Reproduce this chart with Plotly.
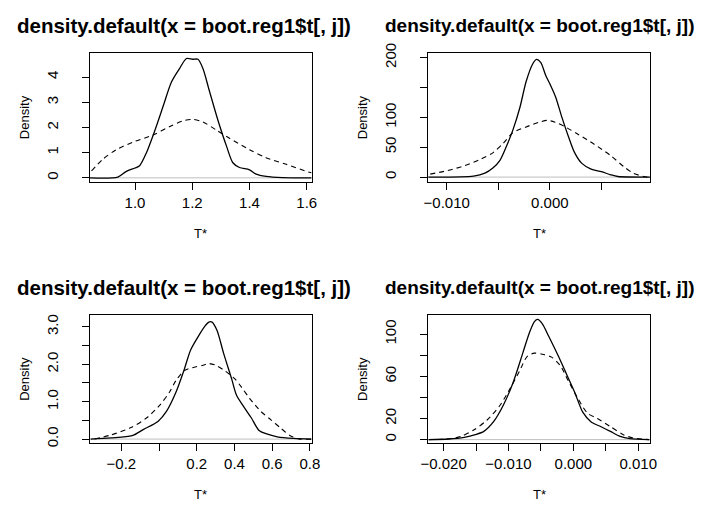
import plotly.graph_objects as go

FONT = "Liberation Sans, Arial, Helvetica, sans-serif"
TITLE = "density.default(x = boot.reg1$t[, j])"

# panel 1 (top left)
p1_solid_x = [0.84, 0.94, 0.97, 1.0, 1.016, 1.04, 1.07, 1.10, 1.127, 1.156, 1.18, 1.202,
              1.22, 1.237, 1.26, 1.29, 1.32, 1.342, 1.365, 1.40, 1.423, 1.458, 1.516, 1.617]
p1_solid_y = [0.0, 0.03, 0.26, 0.39, 0.48, 1.0, 1.9, 2.9, 3.8, 4.35, 4.74, 4.71,
              4.71, 4.35, 3.45, 2.28, 1.25, 0.6, 0.41, 0.32, 0.15, 0.06, 0.013, 0.0]
p1_dash_x = [0.848, 0.888, 0.935, 1.0, 1.063, 1.12, 1.167, 1.202, 1.237, 1.284, 1.33,
             1.40, 1.458, 1.528, 1.609, 1.617]
p1_dash_y = [0.28, 0.74, 1.12, 1.45, 1.70, 2.03, 2.26, 2.32, 2.22, 1.9, 1.57,
             1.12, 0.8, 0.54, 0.22, 0.2]

# panel 2 (top right)
p2_solid_x = [-0.0118, -0.0074, -0.0063, -0.0055, -0.00484, -0.0042, -0.00358, -0.0029,
              -0.0023, -0.00168, -0.0013, -0.00089, -0.0004, 0.00006, 0.00054, 0.00117,
              0.0018, 0.0024, 0.0031, 0.004, 0.005, 0.0059, 0.0066, 0.0097]
p2_solid_y = [0, 1.6, 6.5, 15.6, 28, 52, 79, 117, 160, 189, 197, 192, 170, 154, 135, 100,
              68, 41, 23, 13.4, 9, 3.8, 1, 0]
p2_dash_x = [-0.0116, -0.0099, -0.0083, -0.0067, -0.0055, -0.0045, -0.0036, -0.0023,
             -0.001, -0.00025, 0.0005, 0.0015, 0.0028, 0.0043, 0.0059, 0.0072, 0.0081,
             0.0091, 0.0097]
p2_dash_y = [5, 11, 19, 30, 41, 57, 74, 84, 92, 95, 92, 84, 71, 55, 36, 17, 6.5, 1, 0]

# panel 3 (bottom left)
p3_solid_x = [-0.363, -0.255, -0.143, -0.082, -0.0045, 0.039, 0.09, 0.134, 0.168, 0.212,
              0.246, 0.264, 0.281, 0.307, 0.342, 0.385, 0.411, 0.454, 0.489, 0.532, 0.575,
              0.627, 0.714, 0.809]
p3_solid_y = [0, 0.03, 0.09, 0.26, 0.48, 0.74, 1.26, 1.87, 2.39, 2.78, 3.04, 3.13, 3.13,
              2.91, 2.30, 1.61, 1.17, 0.83, 0.57, 0.22, 0.13, 0.06, 0.017, 0]
p3_dash_x = [-0.342, -0.255, -0.152, -0.065, 0.004, 0.056, 0.09, 0.134, 0.177, 0.229,
             0.264, 0.298, 0.342, 0.402, 0.437, 0.48, 0.54, 0.592, 0.644, 0.696, 0.748, 0.809]
p3_dash_y = [0, 0.11, 0.30, 0.57, 0.91, 1.26, 1.57, 1.83, 1.91, 1.97, 2.02, 1.98, 1.85,
             1.61, 1.39, 1.09, 0.74, 0.52, 0.30, 0.09, 0, 0]

# panel 4 (bottom right)
p4_solid_x = [-0.0223, -0.0193, -0.0168, -0.0151, -0.0138, -0.0123, -0.0108, -0.0093,
              -0.0078, -0.0068, -0.006, -0.0055, -0.0048, -0.0038, -0.0023, -0.00105,
              0.0002, 0.00145, 0.0027, 0.0042, 0.0057, 0.0072, 0.0087, 0.0117]
p4_solid_y = [0, 0.6, 2.2, 4.7, 7.8, 17, 32.6, 54, 82, 101, 112, 114, 110, 98, 79, 62,
              45, 26, 17, 12.4, 7.8, 3.1, 0.9, 0]
p4_dash_x = [-0.0223, -0.0193, -0.0173, -0.0153, -0.0133, -0.0113, -0.0098, -0.0083,
             -0.0071, -0.006, -0.0048, -0.0033, -0.002, -0.0008, 0.0007, 0.0022, 0.0037,
             0.0057, 0.0077, 0.0092, 0.0117]
p4_dash_y = [0, 0.6, 3.1, 9.3, 18.6, 32.6, 48, 65, 79, 82, 81, 78, 70, 56, 39, 25, 20,
             12.4, 4.7, 1.6, 0]

# ticks
p1_xticks = [1.0, 1.2, 1.4, 1.6]
p1_xlabels = ["1.0", "1.2", "1.4", "1.6"]
p1_yticks = [0, 1, 2, 3, 4]
p1_ylabels = ["0", "1", "2", "3", "4"]
p2_xticks = [-0.010, -0.005, 0.0, 0.005]
p2_xlabels = ["\u22120.010", "", "0.000", ""]
p2_yticks = [0, 50, 100, 150, 200]
p2_ylabels = ["0", "50", "100", "", "200"]
p3_xticks = [-0.2, 0.0, 0.2, 0.4, 0.6, 0.8]
p3_xlabels = ["\u22120.2", "", "0.2", "0.4", "0.6", "0.8"]
p3_yticks = [0, 0.5, 1.0, 1.5, 2.0, 2.5, 3.0]
p3_ylabels = ["0.0", "", "1.0", "", "2.0", "", "3.0"]
p4_xticks = [-0.020, -0.015, -0.010, -0.005, 0.0, 0.005, 0.010]
p4_xlabels = ["\u22120.020", "", "\u22120.010", "", "0.000", "", "0.010"]
p4_yticks = [0, 20, 40, 60, 80, 100]
p4_ylabels = ["0", "20", "", "60", "", "100"]

W, H = 702, 507
# plot boxes in pixels: (left, right, top, bottom)
boxes = [(85, 311.7, 44.7, 176.5), (431, 658.3, 44.7, 176.5),
         (85, 311.7, 314, 445.5), (431, 658.3, 314, 445.5)]
xranges = [[0.843, 1.617], [-0.0118, 0.00974], [-0.366, 0.809], [-0.02238, 0.01186]]
yranges = [[-0.15, 4.94], [-7.6, 207], [-0.11, 3.31], [-3.4, 117.9]]

panels = [
    (p1_solid_x, p1_solid_y, p1_dash_x, p1_dash_y, p1_xticks, p1_xlabels, p1_yticks, p1_ylabels),
    (p2_solid_x, p2_solid_y, p2_dash_x, p2_dash_y, p2_xticks, p2_xlabels, p2_yticks, p2_ylabels),
    (p3_solid_x, p3_solid_y, p3_dash_x, p3_dash_y, p3_xticks, p3_xlabels, p3_yticks, p3_ylabels),
    (p4_solid_x, p4_solid_y, p4_dash_x, p4_dash_y, p4_xticks, p4_xlabels, p4_yticks, p4_ylabels),
]


def px(x):
    return x / W


def py(y):
    return 1 - y / H


fig = go.Figure()
annotations = []
shapes = []
for i, (sx, sy, dx, dy, xt, xl, yt, yl) in enumerate(panels):
    n = "" if i == 0 else str(i + 1)
    xa, ya = "x" + n, "y" + n
    left, right, top, bottom = boxes[i]
    fig.add_trace(go.Scatter(x=dx, y=dy, mode="lines", xaxis=xa, yaxis=ya,
                             line=dict(color="black", width=1.1, dash="5px,4px",
                                       shape="spline", smoothing=0.8),
                             showlegend=False, hoverinfo="skip"))
    fig.add_trace(go.Scatter(x=sx, y=sy, mode="lines", xaxis=xa, yaxis=ya,
                             line=dict(color="black", width=1.3, shape="spline",
                                       smoothing=0.8),
                             showlegend=False, hoverinfo="skip"))
    axis_common = dict(showgrid=False, zeroline=False, showline=True, mirror=True,
                       linecolor="black", linewidth=1, ticks="outside", ticklen=7,
                       tickcolor="black", tickwidth=1,
                       tickfont=dict(family=FONT, size=15, color="black"))
    fig.layout["xaxis" + n] = dict(axis_common, domain=[px(left), px(right)],
                                   range=xranges[i], tickvals=xt, ticktext=xl,
                                   anchor=ya, ticklabelstandoff=0)
    fig.layout["yaxis" + n] = dict(axis_common, domain=[py(bottom), py(top)],
                                   range=yranges[i], tickvals=yt, ticktext=yl,
                                   anchor=xa, tickangle=-90, ticklabelstandoff=18)
    shapes.append(dict(type="line", xref=xa + " domain", yref=ya, x0=0, x1=1, y0=0, y1=0,
                       line=dict(color="#BEBEBE", width=1), layer="below"))
    cx = (left + right) / 2
    if i % 2 == 0:
        # left column titles are drawn a bit larger and run into the gutter
        title_pos = dict(x=px(8), xanchor="left", font=dict(family=FONT, size=20.5, color="black"))
    else:
        title_pos = dict(x=px(cx), xanchor="center", font=dict(family=FONT, size=19, color="black"))
    annotations.append(dict(text="<b>" + TITLE + "</b>", y=py(top - 29),
                            xref="paper", yref="paper", showarrow=False,
                            yanchor="middle", **title_pos))
    annotations.append(dict(text="T*", x=px(cx), y=py(bottom + 53),
                            xref="paper", yref="paper", showarrow=False,
                            xanchor="center", yanchor="middle",
                            font=dict(family=FONT, size=13, color="black")))
    annotations.append(dict(text="Density", x=px(left - 67), y=py((top + bottom) / 2),
                            xref="paper", yref="paper", showarrow=False, textangle=-90,
                            xanchor="center", yanchor="middle",
                            font=dict(family=FONT, size=13, color="black")))

fig.update_layout(width=W, height=H, margin=dict(l=0, r=0, t=0, b=0),
                  paper_bgcolor="white", plot_bgcolor="white",
                  annotations=annotations, shapes=shapes)
# drop the browser's default body margin so the figure fills the window exactly
fig.write_html("out.html", config={"displayModeBar": False},
               post_script="document.body.style.margin='0';"
                           "document.body.style.overflow='hidden';")
